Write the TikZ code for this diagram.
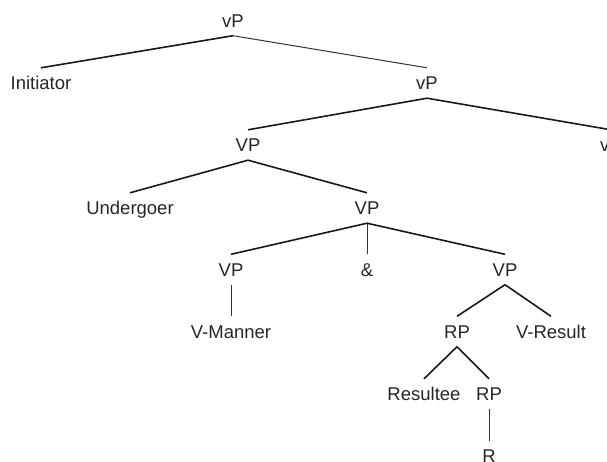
\documentclass[tikz,border=0pt]{standalone}
\usepackage{fontspec}
\setmainfont{Liberation Sans}
\begin{document}
\begin{tikzpicture}[x=1pt,y=-1pt,
  lbl/.style={inner xsep=0pt, inner ysep=8.5pt, text height=13pt, text depth=0pt,
              font=\fontsize{18.5}{20}\selectfont, text=black!85},
  branch/.style={line width=1.6pt, black!90},
  thinbranch/.style={line width=1.0pt, black!80}]
\useasboundingbox (0,0) rectangle (607,461);
\clip (0,0) rectangle (607,461);
% row 0
\node[lbl] (vp0) at (233,20.5) {vP};
% row 1
\node[lbl] (init) at (41,83) {Initiator};
\node[lbl] (vp1) at (427,83) {vP};
% row 2
\node[lbl] (VPa) at (248,145) {VP};
\node[lbl] (vpr) at (611,145) {vP};
% row 3
\node[lbl] (und) at (130,208) {Undergoer};
\node[lbl] (VPb) at (367,208) {VP};
% row 4
\node[lbl] (VPc) at (231,269.5) {VP};
\node[lbl] (amp) at (367,269.5) {\&};
\node[lbl] (VPd) at (505,269.5) {VP};
% row 5
\node[lbl] (vman) at (231,331.5) {V-Manner};
\node[lbl] (RPa) at (457,331.5) {RP};
\node[lbl] (vres) at (551,331.5) {V-Result};
% row 6
\node[lbl] (rsl) at (424,394) {Resultee};
\node[lbl] (RPb) at (489,394) {RP};
% row 7
\node[lbl] (R) at (489,456) {R};
% branches
\draw[branch] (vp0.south) -- (init.north);
\draw[thinbranch] (vp0.south) -- (vp1.north);
\draw[branch] (vp1.south) -- (VPa.north);
\draw[branch] (vp1.south) -- (vpr.north);
\draw[branch] (VPa.south) -- (und.north);
\draw[branch] (VPa.south) -- (VPb.north);
\draw[branch] (VPb.south) -- (VPc.north);
\draw[thinbranch] (VPb.south) -- (amp.north);
\draw[branch] (VPb.south) -- (VPd.north);
\draw[thinbranch] (VPc.south) -- (vman.north);
\draw[branch] (VPd.south) -- (RPa.north);
\draw[branch] (VPd.south) -- (vres.north);
\draw[branch] (RPa.south) -- (rsl.north);
\draw[branch] (RPa.south) -- (RPb.north);
\draw[thinbranch] (RPb.south) -- (R.north);
\end{tikzpicture}
\end{document}
